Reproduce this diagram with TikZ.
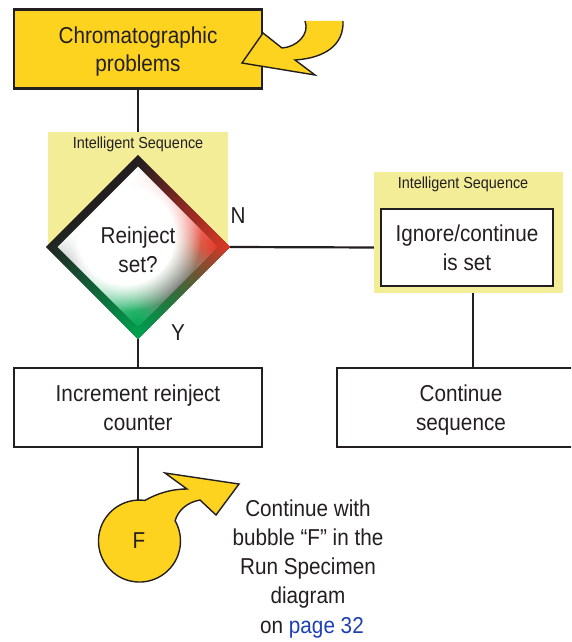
\documentclass[tikz,border=0pt]{standalone}
\usepackage{fontspec}
\setmainfont{Liberation Sans}[FakeStretch=0.9]
\usetikzlibrary{shapes.geometric,fadings}
\pgfdeclarelayer{lines}
\pgfdeclarelayer{panels}
\pgfsetlayers{lines,panels,main}

\definecolor{boxyellow}{HTML}{FDD320}
\definecolor{paleyellow}{HTML}{F3ED97}
\definecolor{ink}{HTML}{231F20}
\definecolor{linkblue}{HTML}{1E40B4}
\definecolor{decred}{HTML}{EE3224}
\definecolor{decgreen}{HTML}{00A651}

% linear radial glow, and a glow with a solid core
\tikzfading[name=glow, inner color=transparent!0, outer color=transparent!100]
\pgfdeclareradialshading{coreshade}{\pgfpointorigin}{color(0bp)=(white); color(16bp)=(white); color(25bp)=(black); color(50bp)=(black)}
\pgfdeclarefading{coreglow}{\pgfuseshading{coreshade}}

\tikzset{
  txt/.style={font=\fontsize{23}{28.5}\selectfont, text=ink, align=center},
  smalltxt/.style={font=\fontsize{16}{18}\selectfont, text=ink},
  process/.style={rectangle, draw=ink, line width=2.4pt, fill=white,
    minimum width=248, minimum height=79, inner sep=0, txt, text depth=0pt},
  startbox/.style={process, fill=boxyellow},
  panel/.style={rectangle, fill=paleyellow, inner sep=0},
  connector/.style={draw=ink, line width=2.2pt},
  pointer/.style={fill=boxyellow},
  pointeredge/.style={draw=ink, line width=1.4pt, line join=miter},
}

\begin{document}
\begin{tikzpicture}[x=1pt,y=-1pt]
\useasboundingbox (0,0) rectangle (571,642);
\clip (0,0) rectangle (571,642);

% process boxes and the decision
\node[startbox] (top) at (138,49) {Chromatographic\\problems};
\node[diamond, aspect=1, minimum width=184, minimum height=184, inner sep=0] (dec) at (138,247) {};
\node[diamond, aspect=1, minimum width=161, minimum height=161, inner sep=0] (decin) at (138,247) {};
\node[process, minimum width=172, minimum height=77] (ign) at (467,247.5) {Ignore/continue\\is set};
\node[process] (inc) at (138,407.5) {Increment reinject\\counter};
\node[process] (cont) at (461,407.5) {Continue\\sequence};

% curved pointer into the start box
\fill[pointer] (305,21) .. controls (310,34) and (297,47) .. (282,48) -- (263,33) -- (242,63)
  -- (315,75) -- (295,60) .. controls (325,58) and (344,45) .. (343,21) -- cycle;
\draw[pointeredge] (305,21) .. controls (310,34) and (297,47) .. (282,48) -- (263,33) -- (242,63)
  -- (315,75) -- (295,60) .. controls (325,58) and (344,45) .. (343,21);

% off-page bubble with its tail
\filldraw[pointer, pointeredge] (144.9,500.4) arc[start angle=-82.4, end angle=-389.6, radius=41]
  .. controls (178,510) and (188,502) .. (200,500) -- (216,515) -- (239,484) -- (165,473)
  -- (187,489) .. controls (172,489) and (158,493) .. (144.9,500.4) -- cycle;
\node[circle, minimum size=82, inner sep=0, txt] (F) at (139,541) {F};

% labels
\node[txt] (dectext) at (138,250) {Reinject\\set?};
\node[smalltxt] (islab1) at (138,144) {Intelligent Sequence};
\node[smalltxt] (islab2) at (463,184) {Intelligent Sequence};
\node[txt] (nlab) at (238,216) {N};
\node[txt] (ylab) at (178,333) {Y};
\node[txt, font=\fontsize{23}{29}\selectfont] (note) at (308,554) {Continue with\\bubble “F” in the\\Run Specimen\\diagram};
\node[txt] (pageref) at (312,628) {on \textcolor{linkblue}{page 32}};

% shaded panels and the decision diamond
\begin{pgfonlayer}{panels}
\node[panel, minimum width=180, minimum height=115] (is1) at (138,189.5) {};
\node[panel, minimum width=189, minimum height=121] (is2) at (468.5,232.5) {};
\begin{scope}
  \clip (decin.north) -- (decin.east) -- (decin.south) -- (decin.west) -- cycle;
  \fill[white] (dec.north) -- (dec.east) -- (dec.south) -- (dec.west) -- cycle;
  \fill[decred, path fading=glow] (decin.east) circle (110);
  \fill[decgreen, path fading=glow] (decin.south) circle (115);
  \fill[black!55, path fading=glow] (178,287) circle (45);
  \fill[black!35, path fading=glow] (72,262) circle (30);
  \fill[white, path fading=coreglow] (126,236) circle (75);
\end{scope}
\begin{scope}[even odd rule]
  \clip (dec.north) -- (dec.east) -- (dec.south) -- (dec.west) -- cycle
    (decin.north) -- (decin.east) -- (decin.south) -- (decin.west) -- cycle;
  \fill[ink] (dec.north) -- (dec.east) -- (dec.south) -- (dec.west) -- cycle;
  \fill[decred, path fading=glow] (dec.east) circle (125);
  \fill[decgreen, path fading=glow] (dec.south) circle (135);
\end{scope}
\end{pgfonlayer}

% connectors
\begin{pgfonlayer}{lines}
\draw[connector] (top.south) -- (dec.north);
\draw[connector] (dec.east) -- (ign.west);
\draw[connector] (dec.south) -- (inc.north);
\draw[connector] ([xshift=6pt]ign.south) -- ([xshift=6pt]ign.south |- cont.north);
\draw[connector] (inc.south) -- (inc.south |- F.north);
\end{pgfonlayer}
\end{tikzpicture}
\end{document}
